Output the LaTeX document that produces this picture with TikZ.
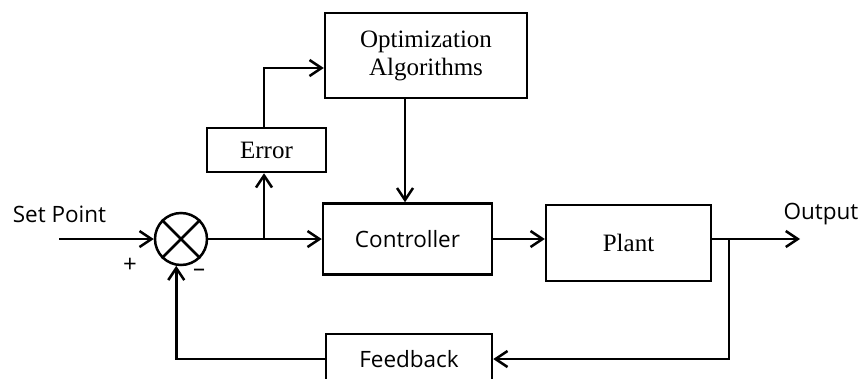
\documentclass[tikz,border=0pt]{standalone}
\usepackage{fontspec}
\setmainfont{Liberation Serif}
\newfontfamily\osans{Open Sans}
\usetikzlibrary{arrows.meta}
\begin{document}
\begin{tikzpicture}[x=1pt,y=-1pt,line width=2.5pt,
   blk/.style={draw,rectangle,inner sep=0pt},
   srf/.style={font=\fontsize{25}{28}\selectfont},
   sns/.style={font=\osans\fontsize{22.5}{27}\selectfont},
   sgn/.style={font=\osans\fontsize{24}{26}\selectfont},
   arr/.style={-{Straight Barb[length=12pt,width=16pt,line width=2.5pt]}}]
   \useasboundingbox (0,0) rectangle (861,378);
   \node [blk,srf,align=center,minimum width=202pt,minimum height=85pt] (opt) at (426,55.5) {Optimization\\Algorithms};
   \node [blk,srf,minimum width=119pt,minimum height=44pt] (err) at (266.5,150) {Error};
   \node [blk,sns,minimum width=169pt,minimum height=71pt] (ctrl) at (407.5,239) {Controller};
   \node [blk,srf,minimum width=165pt,minimum height=76pt] (plant) at (628.5,243) {Plant};
   \node [blk,sns,minimum width=166pt,minimum height=50pt] (fbk) at (409,359) {Feedback};
   \node [draw,circle,minimum size=52pt,inner sep=0pt] (sum) at (181,239) {};
   \draw (sum.45) -- (sum.225) (sum.135) -- (sum.315);
   \node [sns] (sp) at (59.5,214) {Set Point};
   \node [sns] (outl) at (821,214) {Output};
   \node [sgn] (plus) at (130,265) {+};
   \node [sgn] (minus) at (199,273) {–};
   \coordinate (spin) at (59,239);
   \coordinate (br) at (264,239);
   \coordinate (tap) at (729,239);
   \coordinate (out) at (800,239);
   % forward path
   \draw [arr] (spin) -- (sum.west);
   \draw [arr] (sum.east) -- (ctrl.west);
   \draw [arr] (br) -- (br |- err.south);
   \draw [arr] (br |- err.north) |- ([yshift=-12.5pt]opt.west);
   \draw [arr] ([xshift=-21pt]opt.south) -- ([xshift=-21pt]opt.south |- ctrl.north);
   \draw [arr] (ctrl.east) -- (ctrl.east -| plant.west);
   \draw [arr] (plant.east |- tap) -- (out);
   % feedback path
   \draw [arr] (tap) |- (fbk.east);
   \draw [arr] (fbk.west) -| (sum.-100);
\end{tikzpicture}
\end{document}
